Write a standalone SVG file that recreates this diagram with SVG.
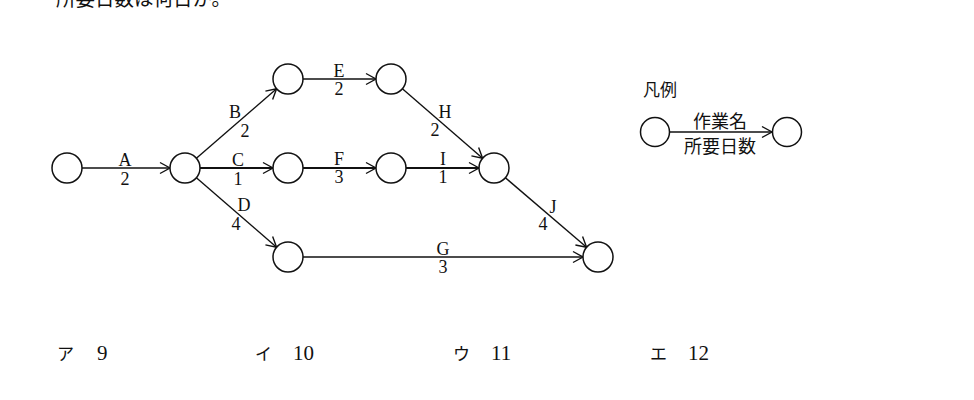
<svg xmlns="http://www.w3.org/2000/svg" width="974" height="400" viewBox="0 0 974 400">
<style>
.node{fill:#fff;stroke:#111;stroke-width:1.5}
.edge{fill:none;stroke:#111;stroke-width:1.4;marker-end:url(#arr)}
.bold{stroke-width:2}
.lbl{font-family:"Liberation Serif","DejaVu Serif",serif;font-size:18px;fill:#111;text-anchor:middle}
.jp{font-family:"Noto Sans CJK JP",sans-serif;fill:#111}
.num{font-family:"Liberation Serif",serif;font-size:21px;fill:#111}
</style>
<defs>
<marker id="arr" viewBox="-12 -7 14 14" refX="0" refY="0" markerWidth="14" markerHeight="14" markerUnits="userSpaceOnUse" orient="auto">
<path d="M -10 -5.5 L 0 0 L -10 5.5" fill="none" stroke="#111" stroke-width="1.4"/>
</marker>
</defs>
<rect width="974" height="400" fill="#fff"/>
<text class="jp" x="56" y="6" font-size="19.5">所要日数は何日か。</text>

<g id="connectors">
<line class="edge" x1="82" y1="168" x2="170" y2="168"/>
<line class="edge" x1="196.4" y1="158.2" x2="276.6" y2="88.8"/>
<line class="edge bold" x1="200" y1="168" x2="273" y2="168"/>
<line class="edge" x1="196.4" y1="177.8" x2="276.6" y2="247.2"/>
<line class="edge" x1="303" y1="79" x2="376" y2="79"/>
<line class="edge bold" x1="303" y1="168" x2="376" y2="168"/>
<line class="edge" x1="402.4" y1="88.8" x2="482.6" y2="158.2"/>
<line class="edge bold" x1="406" y1="168" x2="479" y2="168"/>
<line class="edge" x1="303" y1="257" x2="583" y2="257"/>
<line class="edge" x1="505.4" y1="177.8" x2="586.6" y2="247.3"/>
<line class="edge" x1="670" y1="132" x2="772" y2="132"/>
</g>

<g id="edge-labels">
<text class="lbl" x="125" y="166">A</text><text class="lbl" x="125" y="185">2</text>
<text class="lbl" x="235" y="118">B</text><text class="lbl" x="245" y="137">2</text>
<text class="lbl" x="238" y="166">C</text><text class="lbl" x="238" y="185">1</text>
<text class="lbl" x="244" y="211">D</text><text class="lbl" x="236" y="230">4</text>
<text class="lbl" x="339" y="77">E</text><text class="lbl" x="339" y="95">2</text>
<text class="lbl" x="339" y="165">F</text><text class="lbl" x="339" y="183">3</text>
<text class="lbl" x="445" y="118">H</text><text class="lbl" x="435" y="136">2</text>
<text class="lbl" x="443" y="165">I</text><text class="lbl" x="443" y="183">1</text>
<text class="lbl" x="443" y="255">G</text><text class="lbl" x="443" y="273">3</text>
<text class="lbl" x="553" y="213">J</text><text class="lbl" x="543" y="230">4</text>
</g>

<g id="n1"><circle class="node" cx="67" cy="168" r="15"/></g>
<g id="n2"><circle class="node" cx="185" cy="168" r="15"/></g>
<g id="n3"><circle class="node" cx="288" cy="79" r="15"/></g>
<g id="n4"><circle class="node" cx="288" cy="168" r="15"/></g>
<g id="n5"><circle class="node" cx="288" cy="257" r="15"/></g>
<g id="n6"><circle class="node" cx="391" cy="79" r="15"/></g>
<g id="n7"><circle class="node" cx="391" cy="168" r="15"/></g>
<g id="n8"><circle class="node" cx="494" cy="168" r="15"/></g>
<g id="n9"><circle class="node" cx="598" cy="257" r="15"/></g>

<g id="legend">
<text class="jp" x="643" y="96" font-size="17">凡例</text>
<circle class="node" cx="655" cy="132" r="14.5"/>
<circle class="node" cx="787" cy="132" r="14.5"/>
<text class="jp" x="720" y="128" font-size="18" text-anchor="middle">作業名</text>
<text class="jp" x="720" y="153" font-size="18" text-anchor="middle">所要日数</text>
</g>

<g id="choices">
<text class="jp" x="57" y="360" font-size="17">ア</text><text class="num" x="97" y="360">9</text>
<text class="jp" x="255" y="360" font-size="17">イ</text><text class="num" x="293" y="360">10</text>
<text class="jp" x="453" y="360" font-size="17">ウ</text><text class="num" x="491" y="360">11</text>
<text class="jp" x="650" y="360" font-size="17">エ</text><text class="num" x="688" y="360">12</text>
</g>
</svg>
